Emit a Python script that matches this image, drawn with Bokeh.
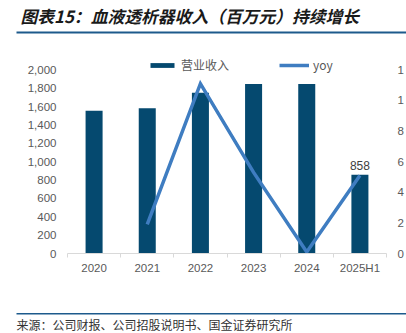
from bokeh.plotting import figure
from bokeh.models import (Range1d, LinearAxis, FixedTicker, NumeralTickFormatter,
                          Legend, LegendItem, ColumnDataSource)
from bokeh.layouts import column
from bokeh.core.properties import value
from bokeh.embed import file_html
from bokeh.resources import INLINE

# ---------------- data ----------------
categories = ["2020", "2021", "2022", "2023", "2024", "2025H1"]
revenue = [1556, 1581, 1752, 1847, 1845, 858]
yoy_categories = ["2021", "2022", "2023", "2024", "2025H1"]
yoy = [0.19, 1.11, 0.53, 0.01, 0.51]
left_ticks = [0, 200, 400, 600, 800, 1000, 1200, 1400, 1600, 1800, 2000]
right_ticks = [0, 0.2, 0.4, 0.6, 0.8, 1.0, 1.2]
right_tick_labels = ["0", "2", "4", "6", "8", "1", "1"]   # clipped at the picture edge
bar_label_category = "2025H1"
bar_label_value = 858
title_text = "图表15：血液透析器收入（百万元）持续增长"
source_text = "来源：公司财报、公司招股说明书、国金证券研究所"
legend_labels = ["营业收入", "yoy"]

# ---------------- styles ----------------
BAR = "#05496F"
LINE = "#3F7DC1"
RULE = "#1D5A8C"
GRAY = "#595959"
NUM_FONT = "Liberation Sans"
CJK_FONT = "Noto Sans CJK SC"
W = 406

pos = {c: i + 0.5 for i, c in enumerate(categories)}
centers = [pos[c] for c in categories]
bounds = [i for i in range(len(categories) + 1)]

# ---------------- title strip ----------------
t = figure(width=W, height=36, x_range=Range1d(0, W), y_range=Range1d(36, 0),
           output_backend="svg", toolbar_location=None, x_axis_type=None, y_axis_type=None,
           min_border_left=0, min_border_right=0, min_border_top=0, min_border_bottom=0,
           outline_line_color=None, frame_align=False)
t.text(x=[20], y=[15], text=[title_text], text_font=value(CJK_FONT), text_font_size="16.8px",
       text_font_style="bold italic", text_color="#1a1a1a", text_baseline="middle", text_align="left")
t.segment(x0=[16], y0=[32], x1=[W], y1=[32], line_color=RULE, line_width=2)

# ---------------- main chart ----------------
p = figure(width=W, height=269, x_range=Range1d(0, len(categories)), y_range=Range1d(0, 2320),
           output_backend="svg", toolbar_location=None, x_axis_type=None, y_axis_type=None,
           min_border_left=67, min_border_right=17, min_border_top=4, min_border_bottom=52,
           outline_line_color=None, frame_align=False)
p.extra_y_ranges = {"yoy": Range1d(0, 1.392)}

src = ColumnDataSource(dict(x=centers, top=revenue))
bars = p.vbar(x="x", top="top", width=0.32, source=src, fill_color=BAR, line_color=None)

lsrc = ColumnDataSource(dict(x=[pos[c] for c in yoy_categories], y=yoy))
line = p.line(x="x", y="y", source=lsrc, y_range_name="yoy", line_color=LINE,
              line_width=3.5, line_join="miter")

p.text(x=[pos[bar_label_category]], y=[bar_label_value], text=[str(bar_label_value)],
       text_align="center", text_baseline="bottom", y_offset=-5,
       text_font=value(NUM_FONT), text_font_size="12px", text_color="#404040")

xaxis = LinearAxis(ticker=FixedTicker(ticks=centers, minor_ticks=bounds),
                   major_label_overrides={pos[c]: c for c in categories},
                   axis_line_color="#d9d9d9", major_tick_line_color=None,
                   minor_tick_line_color="#d9d9d9", minor_tick_out=4, minor_tick_in=0,
                   major_tick_out=0, major_tick_in=0, major_label_standoff=4,
                   major_label_text_font=NUM_FONT, major_label_text_font_size="11.5px",
                   major_label_text_color=GRAY)
p.add_layout(xaxis, "below")

yleft = LinearAxis(ticker=FixedTicker(ticks=left_ticks), formatter=NumeralTickFormatter(format="0,0"),
                   axis_line_color=None, major_tick_line_color=None, minor_tick_line_color=None,
                   major_tick_out=0, major_tick_in=0, major_label_standoff=11,
                   major_label_text_font=NUM_FONT, major_label_text_font_size="11.5px",
                   major_label_text_color=GRAY)
p.add_layout(yleft, "left")

yright = LinearAxis(y_range_name="yoy", ticker=FixedTicker(ticks=right_ticks),
                    major_label_overrides=dict(zip(right_ticks, right_tick_labels)),
                    axis_line_color=None, major_tick_line_color=None, minor_tick_line_color=None,
                    major_tick_out=0, major_tick_in=0, major_label_standoff=11,
                    major_label_text_font=NUM_FONT, major_label_text_font_size="11.5px",
                    major_label_text_color=GRAY)
p.add_layout(yright, "right")

legend = Legend(items=[LegendItem(label=legend_labels[0], renderers=[bars]),
                       LegendItem(label=legend_labels[1], renderers=[line])],
                orientation="horizontal", location=(80, 180), glyph_width=30, glyph_height=6,
                label_standoff=4, spacing=50, padding=0, margin=0, border_line_color=None,
                background_fill_alpha=0, label_text_font=CJK_FONT + ", " + NUM_FONT,
                label_text_font_size="12px", label_text_color=GRAY)
p.add_layout(legend)

# ---------------- source strip ----------------
f = figure(width=W, height=28, x_range=Range1d(0, W), y_range=Range1d(28, 0),
           output_backend="svg", toolbar_location=None, x_axis_type=None, y_axis_type=None,
           min_border_left=0, min_border_right=0, min_border_top=0, min_border_bottom=0,
           outline_line_color=None, frame_align=False)
f.segment(x0=[16], y0=[8.3], x1=[W], y1=[8.3], line_color=RULE, line_width=1.5)
f.text(x=[16], y=[18.5], text=[source_text], text_font=value(CJK_FONT), text_font_size="12px",
       text_color="#333333", text_baseline="middle", text_align="left")

layout = column(t, p, f, spacing=0)
open("out.html", "w").write(file_html(layout, INLINE))
